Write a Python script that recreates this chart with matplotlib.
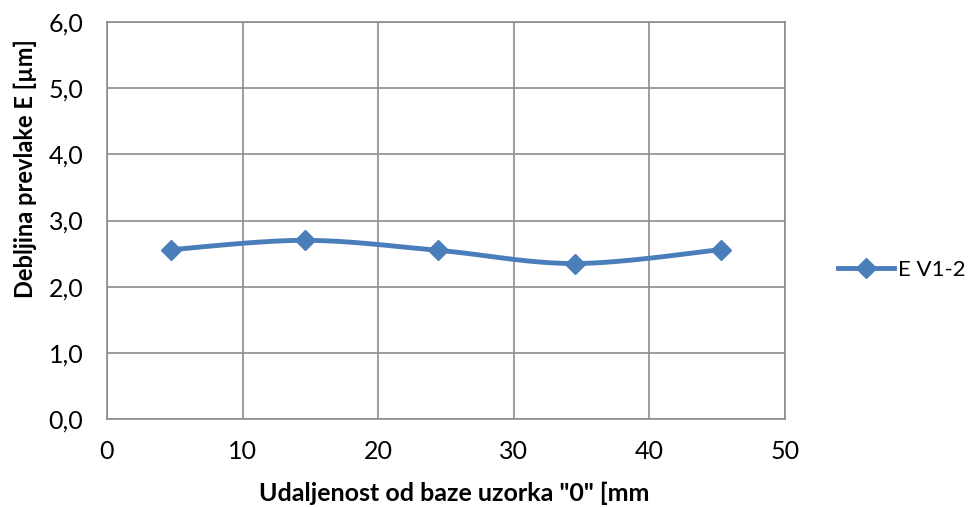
import numpy as np
import matplotlib
matplotlib.use("Agg")
import matplotlib.pyplot as plt
from matplotlib.ticker import FuncFormatter
from matplotlib.lines import Line2D

x_vals = [4.75, 14.6, 24.4, 34.5, 45.3]
y_vals = [2.56, 2.70, 2.55, 2.35, 2.56]
series_name = "E V1-2"
x_label = 'Udaljenost od baze uzorka "0" [mm'
y_label = "Debljina prevlake E [µm]"

plt.rcParams['font.family'] = ['Lato', 'DejaVu Sans']

def smooth(xs, ys, n=30, t=0.5):
    xs = np.asarray(xs, float); ys = np.asarray(ys, float)
    px = np.concatenate([[xs[0]], xs, [xs[-1]]])
    py = np.concatenate([[ys[0]], ys, [ys[-1]]])
    ox, oy = [], []
    for i in range(1, len(px) - 2):
        p0 = np.array([px[i-1], py[i-1]]); p1 = np.array([px[i], py[i]])
        p2 = np.array([px[i+1], py[i+1]]); p3 = np.array([px[i+2], py[i+2]])
        c1 = p1 + (p2 - p0) * t / 3
        c2 = p2 - (p3 - p1) * t / 3
        s = np.linspace(0, 1, n)[:, None]
        b = (1-s)**3*p1 + 3*(1-s)**2*s*c1 + 3*(1-s)*s**2*c2 + s**3*p2
        ox.extend(b[:, 0]); oy.extend(b[:, 1])
    return ox, oy

fig = plt.figure(figsize=(9.7, 5.07), dpi=100)
ax = fig.add_axes([107/970, 1-419/507, (785-107)/970, (419-22)/507])
color = '#4A7EBB'
sx, sy = smooth(x_vals, y_vals)
ax.plot(sx, sy, color=color, lw=3.5, solid_capstyle='round', zorder=3)
ax.plot(x_vals, y_vals, ls='none', marker='D', ms=10.5, color=color, zorder=4)

ax.set_xlim(0, 50)
ax.set_ylim(0, 6)
ax.set_xticks(np.arange(0, 51, 10))
ax.set_yticks(np.arange(0, 6.1, 1))
ax.yaxis.set_major_formatter(FuncFormatter(lambda v, p: f"{v:.1f}".replace('.', ',')))
ax.grid(True, color='#8c8c8c', lw=1.2)
ax.set_axisbelow(True)
for sp in ax.spines.values():
    sp.set_color('#8c8c8c'); sp.set_linewidth(1.2)
ax.tick_params(length=0, labelsize=18)
ax.tick_params(axis='x', pad=15)
ax.tick_params(axis='y', pad=17)
ax.set_xlabel(x_label, fontsize=18, fontweight='bold')
ax.set_ylabel(y_label, fontsize=17, fontweight='bold')
ax.xaxis.set_label_coords(0.512, -0.158)
ax.yaxis.set_label_coords(-0.103, 0.63)

h = Line2D([], [], color=color, lw=3.5, marker='D', ms=10.5)
fig.legend([h], [series_name], loc='center left', bbox_to_anchor=(838/970, 1-270/507),
           frameon=False, fontsize=16, handlelength=2.5, handletextpad=0.2,
           borderpad=0, borderaxespad=0)

fig.savefig('out.png', dpi=100)
